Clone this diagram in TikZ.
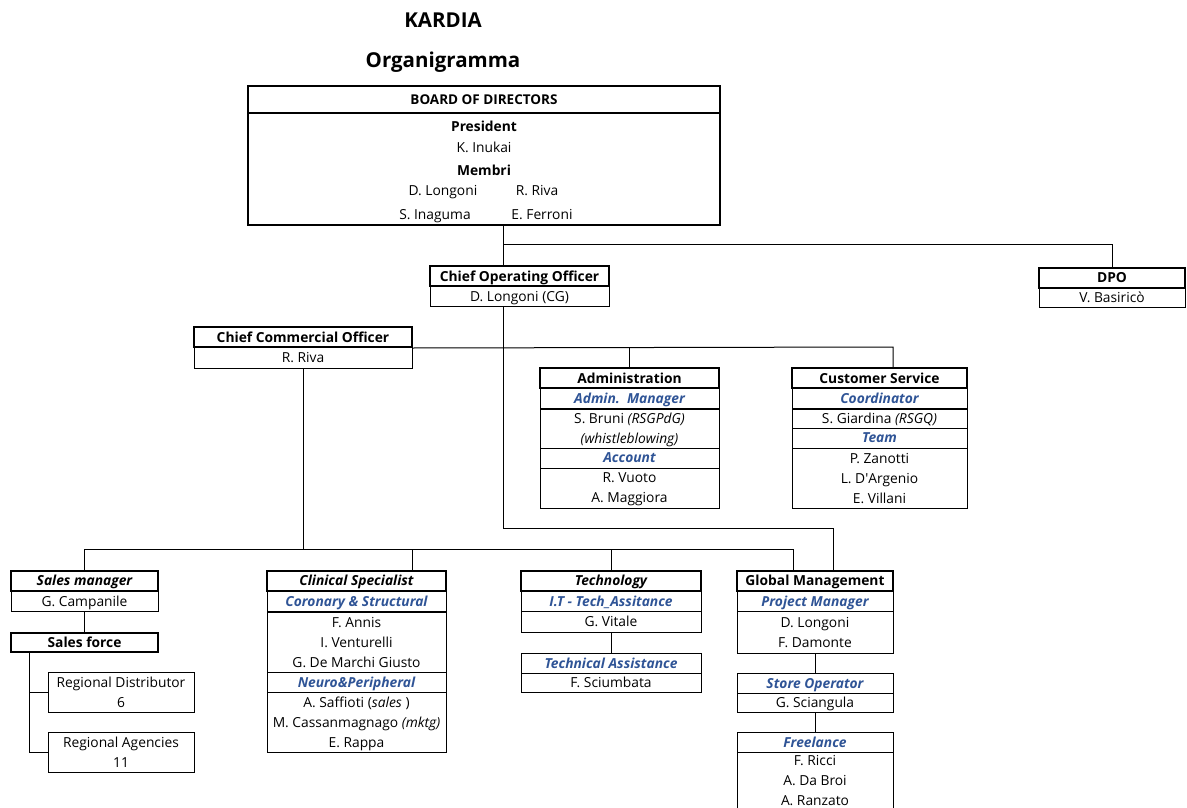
\documentclass[tikz,border=0pt]{standalone}
\usepackage{fontspec}
\setmainfont{Open Sans}
\definecolor{kblue}{RGB}{47,84,150}
\newcommand\bodyfont{\fontsize{13.8}{20}\selectfont}

\begin{document}
\begin{tikzpicture}[x=1pt,y=-1pt,
        every node/.style={inner sep=0pt,text depth=0pt,font=\bodyfont},
        cell/.style={draw,line width=1pt,minimum height=20pt,align=center},
        head/.style={draw,line width=2pt,minimum height=20pt,align=center,font=\bodyfont\bfseries},
        sub/.style={cell,text=kblue,font=\bodyfont\bfseries\itshape},
        lbl/.style={text height=9.8pt},
        title/.style={font=\fontsize{20.5}{24}\selectfont\bfseries},
        link/.style={line width=1pt}]
                \useasboundingbox (0,0) rectangle (1187,808);

                \node[title] (kardia) at (443,20){KARDIA};
                \node[title] (organ) at (443,60){Organigramma};

                \node[head,minimum width=472pt,minimum height=112pt] (boardB) at (484,169){};
                \node[head,minimum width=472pt,minimum height=27pt,font=\fontsize{13.5}{16}\selectfont\bfseries] (boardH) at (484,99.5){BOARD OF DIRECTORS};
                \node[lbl,font=\bodyfont\bfseries] (pres) at (484,127){President};
                \node[lbl] (inukai) at (484,148){K. Inukai};
                \node[lbl,font=\bodyfont\bfseries] (membri) at (484,171){Membri};
                \node[lbl] (longoni) at (443,191){D. Longoni};
                \node[lbl] (riva) at (537,191){R. Riva};
                \node[lbl] (inaguma) at (435,215){S. Inaguma};
                \node[lbl] (ferroni) at (542,215){E. Ferroni};

                \node[cell,minimum width=179pt] (cooB) at (519.5,296){D. Longoni (CG)};
                \node[head,minimum width=179pt] (cooH) at (519.5,276){Chief Operating Officer};

                \node[cell,minimum width=146pt] (dpoB) at (1112,297.5){V. Basiricò};
                \node[head,minimum width=146pt] (dpoH) at (1112,277.5){DPO};

                \node[cell,minimum width=218pt,minimum height=21pt] (ccoB) at (303,357.5){R. Riva};
                \node[head,minimum width=218pt] (ccoH) at (303,337){Chief Commercial Officer};

                \begin{scope}[every node/.append style={minimum width=179pt}]
                    \node[sub] (admS) at (629.5,398.5){Admin.\ \ Manager};
                    \node[cell,minimum height=39pt] (admB) at (629.5,428.5){S. Bruni \textit{(RSGPdG)}\\\textit{(whistleblowing)}};
                    \node[sub] (admA) at (629.5,458){Account};
                    \node[cell,minimum height=40pt] (admC) at (629.5,488){R. Vuoto\\A. Maggiora};
                    \node[head] (admH) at (629.5,378){Administration};
                \end{scope}

                \begin{scope}[every node/.append style={minimum width=175pt}]
                    \node[sub] (csS) at (879.5,398.5){Coordinator};
                    \node[cell,minimum height=19pt] (csB) at (879.5,418.5){S. Giardina \textit{(RSGQ)}};
                    \node[sub] (csT) at (879.5,438){Team};
                    \node[cell,minimum height=60pt] (csC) at (879.5,478){P. Zanotti\\L. D\textquotesingle Argenio\\E. Villani};
                    \node[head] (csH) at (879.5,378){Customer Service};
                \end{scope}

                \begin{scope}[every node/.append style={minimum width=147pt}]
                    \node[cell] (smB) at (84.5,601){G. Campanile};
                    \node[head] (smH) at (84.5,580.5){\itshape Sales manager};
                    \node[head,minimum height=19pt] (sf) at (84.5,642.5){Sales force};
                \end{scope}
                \node[cell,minimum width=146pt,minimum height=40pt] (rd) at (121,692){Regional Distributor\\6};
                \node[cell,minimum width=146pt,minimum height=40pt] (ra) at (121,752){Regional Agencies\\11};

                \begin{scope}[every node/.append style={minimum width=179pt}]
                    \node[sub] (cspS) at (356.5,601.5){Coronary \& Structural};
                    \node[cell,minimum height=60pt] (cspB) at (356.5,642){F. Annis\\I. Venturelli\\G. De Marchi Giusto};
                    \node[sub] (cspN) at (356.5,682){Neuro\&Peripheral};
                    \node[cell,minimum height=60pt] (cspC) at (356.5,722){A. Saffioti (\textit{sales} )\\M. Cassanmagnago \textit{(mktg)}\\E. Rappa};
                    \node[head] (cspH) at (356.5,580.5){\itshape Clinical Specialist};
                \end{scope}

                \begin{scope}[every node/.append style={minimum width=180pt}]
                    \node[sub] (techS) at (611,601){I.T - Tech\_Assitance};
                    \node[cell,minimum height=21pt] (techC) at (611,621.5){G. Vitale};
                    \node[head] (techH) at (611,580.5){\itshape Technology};
                    \node[sub] (taH) at (611,663){Technical Assistance};
                    \node[cell,minimum height=19pt] (taB) at (611,682.5){F. Sciumbata};
                \end{scope}

                \begin{scope}[every node/.append style={minimum width=156pt}]
                    \node[sub] (gmS) at (815,601){Project Manager};
                    \node[cell,minimum height=42pt] (gmC) at (815,632){D. Longoni\\F. Damonte};
                    \node[head] (gmH) at (815,580.5){Global Management};
                    \node[sub] (soH) at (815,683){Store Operator};
                    \node[cell,minimum height=19pt] (soB) at (815,702.5){G. Sciangula};
                    \node[sub] (flH) at (815,742){Freelance};
                    \node[cell,minimum height=57pt] (flB) at (815,780.5){F. Ricci\\A. Da Broi\\A. Ranzato};
                \end{scope}

                \coordinate (jB) at (503,244);
                \coordinate (jG) at (833,528);
                \coordinate (jS) at (893,347);
                \coordinate (jL) at (793,549);
                \coordinate (jC) at (412,549);
                \draw[link] (boardB.south -| jB)--(cooH.north -| jB);
                \draw[link] (jB) -| (dpoH.north);
                \draw[link] (cooB.south -| jB) |- (jG)--(gmH.north -| jG);
                \draw[link] (ccoH.south east)--(jS)--(csH.north -| jS);
                \draw[link] (admH.north)--(admH.north |- jS);
                \draw[link] (smH.north) |- (jL)--(gmH.north -| jL);
                \draw[link] (ccoB.south)--(ccoB.south |- jL);
                \draw[link] (jC)--(cspH.north -| jC);
                \draw[link] (techH.north)--(techH.north |- jL);
                \draw[link] (smB.south)--(sf.north);
                \draw[link] ([xshift=19pt]sf.south west) |- (ra.west);
                \draw[link] (rd.west) -| ([xshift=19pt]sf.south west);
                \draw[link] (techC.south)--(taH.north);
                \draw[link] (gmC.south)--(soH.north);
                \draw[link] (soB.south)--(flH.north);
            \end{tikzpicture}
\end{document}
